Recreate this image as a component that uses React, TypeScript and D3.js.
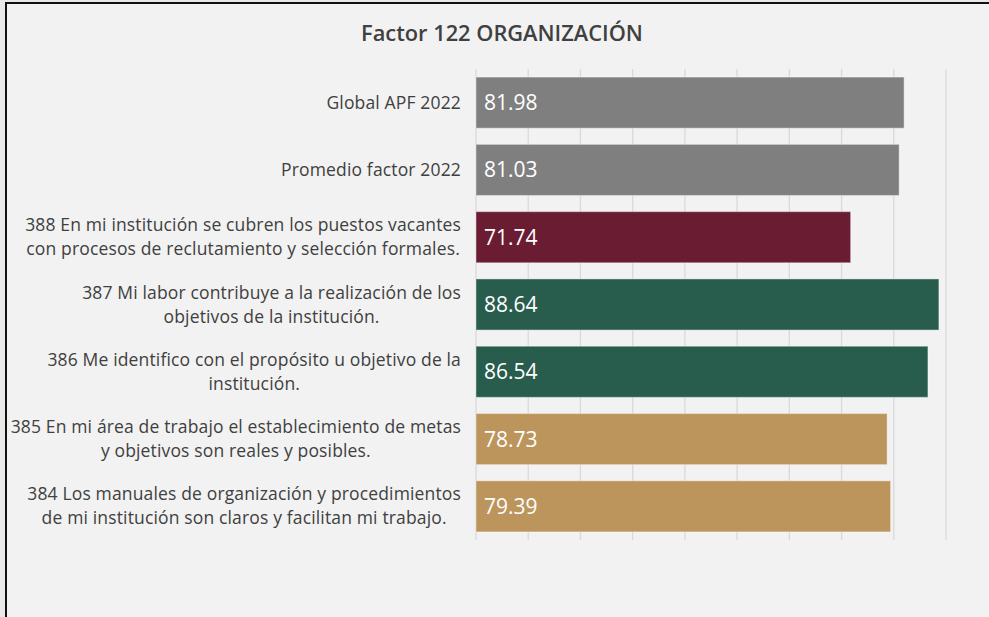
import React, { useRef, useEffect } from 'react';
import * as d3 from 'd3';

const title = 'Factor 122 ORGANIZACIÓN';

// each category is listed with its own line breaks, as in the picture
const categories = [
  ['Global APF 2022'],
  ['Promedio factor 2022'],
  ['388 En mi institución se cubren los puestos vacantes', 'con procesos de reclutamiento y selección formales.'],
  ['387 Mi labor contribuye a la realización de los', 'objetivos de la institución.'],
  ['386 Me identifico con el propósito u objetivo de la', 'institución.'],
  ['385 En mi área de trabajo el establecimiento de metas', 'y objetivos son reales y posibles.'],
  ['384 Los manuales de organización y procedimientos', 'de mi institución son claros y facilitan mi trabajo.'],
];
const values = [81.98, 81.03, 71.74, 88.64, 86.54, 78.73, 79.39];
const barColors = ['#7f7f7f', '#7f7f7f', '#691c32', '#285c4d', '#285c4d', '#bc955c', '#bc955c'];
const gridTicks = [0, 10, 20, 30, 40, 50, 60, 70, 80, 90];

const W = 989;
const H = 617;
const FONT = "'Open Sans', 'DejaVu Sans', sans-serif";

const App = () => {
  const chartRef = useRef(null);

  useEffect(() => {
    const { current: chartDOM } = chartRef;
    renderChart(chartDOM);
  });

  const renderChart = chartDOM => {
    if (!chartDOM) return;
    const svg = d3.select(chartDOM);
    svg.selectAll('*').remove();

    const margin = { top: 69, right: 43, bottom: 77, left: 476 };

    // frame
    svg.append('rect').attr('width', W).attr('height', H).attr('fill', '#e8e8e8');
    svg
      .append('rect')
      .attr('x', 6)
      .attr('y', 3)
      .attr('width', W + 10)
      .attr('height', H + 10)
      .attr('fill', '#f2f2f2')
      .attr('stroke', '#111')
      .attr('stroke-width', 2);

    svg
      .append('text')
      .attr('x', 502)
      .attr('y', 41)
      .attr('text-anchor', 'middle')
      .attr('font-family', FONT)
      .attr('font-size', 21.8)
      .attr('font-weight', 600)
      .attr('fill', '#404040')
      .text(title);

    const x = d3
      .scaleLinear()
      .domain([0, 90])
      .range([margin.left, W - margin.right]);

    const y = d3
      .scaleBand()
      .domain(d3.range(values.length).map(String))
      .range([margin.top, H - margin.bottom])
      .paddingInner(0.24)
      .paddingOuter(0.12);

    svg
      .append('g')
      .selectAll('line')
      .data(gridTicks)
      .enter()
      .append('line')
      .attr('x1', d => x(d))
      .attr('x2', d => x(d))
      .attr('y1', margin.top)
      .attr('y2', H - margin.bottom)
      .attr('stroke', '#d9d9d9')
      .attr('stroke-width', 1.3);

    const bars = svg
      .append('g')
      .selectAll('g')
      .data(values)
      .enter()
      .append('g');

    bars
      .append('rect')
      .attr('x', x(0))
      .attr('y', (d, i) => y(String(i)))
      .attr('width', d => x(d) - x(0))
      .attr('height', y.bandwidth())
      .attr('fill', (d, i) => barColors[i])
      .attr('stroke', 'rgba(255,255,255,0.35)')
      .attr('stroke-width', 1.2);

    bars
      .append('text')
      .attr('x', x(0) + 8)
      .attr('y', (d, i) => y(String(i)) + y.bandwidth() / 2)
      .attr('dy', '0.36em')
      .attr('font-family', FONT)
      .attr('font-size', 21)
      .attr('font-weight', 500)
      .attr('fill', '#ffffff')
      .text(d => d.toFixed(2));

    // category labels: block right-aligned, lines centred inside it
    const labelRight = x(0) - 15;
    const lineH = 24;
    categories.forEach((lines, i) => {
      const cy = y(String(i)) + y.bandwidth() / 2;
      const t = svg
        .append('text')
        .attr('font-family', FONT)
        .attr('font-size', 17.5)
        .attr('letter-spacing', 0.15)
        .attr('fill', '#404040')
        .attr('text-anchor', 'middle');
      const spans = lines.map((ln, j) =>
        t
          .append('tspan')
          .attr('y', cy + (j - (lines.length - 1) / 2) * lineH)
          .attr('dy', '0.35em')
          .text(ln)
      );
      const widest = d3.max(spans, s => s.node().getComputedTextLength());
      spans.forEach(s => s.attr('x', labelRight - widest / 2));
    });
  };

  return (
    <div style={{ position: 'fixed', left: 0, top: 0 }}>
      <svg ref={chartRef} width={W} height={H} style={{ display: 'block' }} />
    </div>
  );
};

export default App;
